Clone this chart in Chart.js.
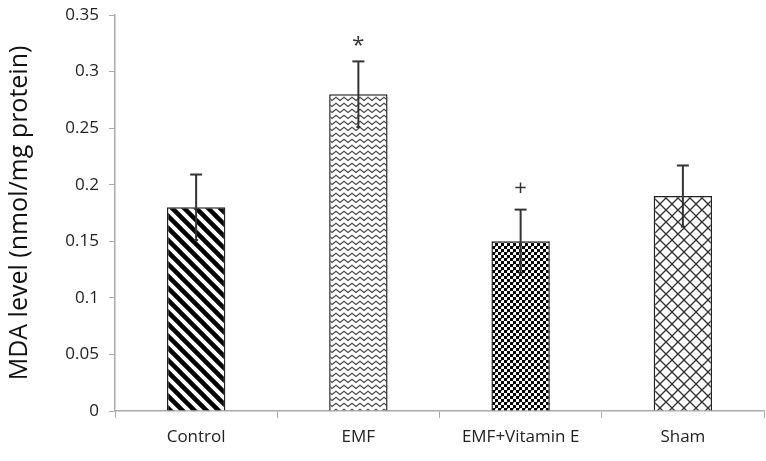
<!DOCTYPE html>
<html><head><meta charset="utf-8">
<script src="https://cdn.jsdelivr.net/npm/chart.js@4.4.0/dist/chart.umd.min.js"></script>
<style>html,body{margin:0;padding:0;background:#fff}#wrap{width:766px;height:461px}</style>
</head><body><div id="wrap"><canvas id="c" width="766" height="461"></canvas></div>
<script>
const categories = ["Control", "EMF", "EMF+Vitamin E", "Sham"];
const mdaValues = [0.18, 0.28, 0.15, 0.19];
const mdaErrors = [0.029, 0.029, 0.028, 0.027];
const markers = ["", "*", "+", ""];
const yTicks = [0, 0.05, 0.1, 0.15, 0.2, 0.25, 0.3, 0.35];

function tile(w, h, draw) {
  const cv = document.createElement('canvas'); cv.width = w; cv.height = h;
  const g = cv.getContext('2d'); g.fillStyle = '#fff'; g.fillRect(0, 0, w, h);
  draw(g, w, h);
  return document.getElementById('c').getContext('2d').createPattern(cv, 'repeat');
}
const pStripes = tile(12, 12, (g, w, h) => {
  g.strokeStyle = '#000'; g.lineWidth = 4.5;
  for (let k = -1; k <= 1; k++) { g.beginPath(); g.moveTo(k * w - 2, -2); g.lineTo(k * w + w + 2, h + 2); g.stroke(); }
});
const pZigzag = tile(8, 6, (g) => {
  g.strokeStyle = '#444'; g.lineWidth = 1.1;
  g.beginPath(); g.moveTo(-1, 0.5); g.lineTo(4, 4.5); g.lineTo(9, 0.5); g.stroke();
});
const pChecker = tile(6, 6, (g) => {
  g.fillStyle = '#000'; g.fillRect(0, 0, 3, 3); g.fillRect(3, 3, 3, 3);
  g.fillStyle = '#555'; g.fillRect(3, 0, 1, 1);
});
const pDiamond = tile(12, 12, (g, w, h) => {
  g.strokeStyle = '#333'; g.lineWidth = 1.3;
  for (let k = -1; k <= 1; k++) {
    g.beginPath(); g.moveTo(k * w, 0); g.lineTo(k * w + w, h); g.stroke();
    g.beginPath(); g.moveTo(k * w + w, 0); g.lineTo(k * w, h); g.stroke();
  }
});

const errPlugin = {
  id: 'errbars',
  afterDatasetsDraw(chart) {
    const ctx = chart.ctx, meta = chart.getDatasetMeta(0), y = chart.scales.y;
    ctx.save();
    ctx.strokeStyle = '#333'; ctx.lineWidth = 2;
    meta.data.forEach((bar, i) => {
      const x = bar.x, top = y.getPixelForValue(mdaValues[i] + mdaErrors[i]), bot = y.getPixelForValue(mdaValues[i] - mdaErrors[i]);
      ctx.beginPath(); ctx.moveTo(x, top); ctx.lineTo(x, bot); ctx.stroke();
      ctx.beginPath(); ctx.moveTo(x - 6, top); ctx.lineTo(x + 6, top); ctx.stroke();
      ctx.beginPath(); ctx.moveTo(x - 2, bot); ctx.lineTo(x + 2, bot); ctx.stroke();
      if (markers[i]) {
        ctx.fillStyle = '#333'; ctx.font = '22px "Open Sans"'; ctx.textAlign = 'center'; ctx.textBaseline = 'middle';
        ctx.fillText(markers[i], x, top - (markers[i] === '*' ? 16 : 21));
      }
    });
    ctx.restore();
  }
};

new Chart(document.getElementById('c'), {
  type: 'bar',
  data: { labels: categories, datasets: [{ data: mdaValues, backgroundColor: [pStripes, pZigzag, pChecker, pDiamond], borderColor: '#222', borderWidth: 1.5, categoryPercentage: 1, barPercentage: 0.36 }] },
  options: {
    responsive: false, animation: false, devicePixelRatio: 1,
    layout: { padding: { top: 15, right: 2, left: 0, bottom: 0 } },
    plugins: { legend: { display: false }, tooltip: { enabled: false } },
    scales: {
      x: {
        grid: { display: true, drawOnChartArea: false, drawTicks: true, tickLength: 7, color: '#aaa', offset: true },
        border: { color: '#aaa', width: 1.5 },
        ticks: { color: '#222', font: { family: '"Open Sans"', size: 17 }, padding: 9 },
        afterFit(s) { s.height = 50; }
      },
      y: {
        min: 0, max: 0.35,
        afterBuildTicks(s) { s.ticks = yTicks.map(v => ({ value: v })); },
        grid: { display: true, drawOnChartArea: false, drawTicks: true, tickLength: 6, color: '#aaa' },
        border: { color: '#aaa', width: 1.5 },
        ticks: { color: '#222', font: { family: '"Open Sans"', size: 17, lineHeight: 1.4 }, padding: 10, callback: v => String(v) },
        title: { display: true, text: 'MDA level (nmol/mg protein)', color: '#111', font: { family: '"Open Sans"', size: 25 }, padding: { top: 5, bottom: 2 } },
        afterFit(s) { s.width = 115; s.paddingTop = 0; }
      }
    }
  },
  plugins: [errPlugin]
});
</script></body></html>
